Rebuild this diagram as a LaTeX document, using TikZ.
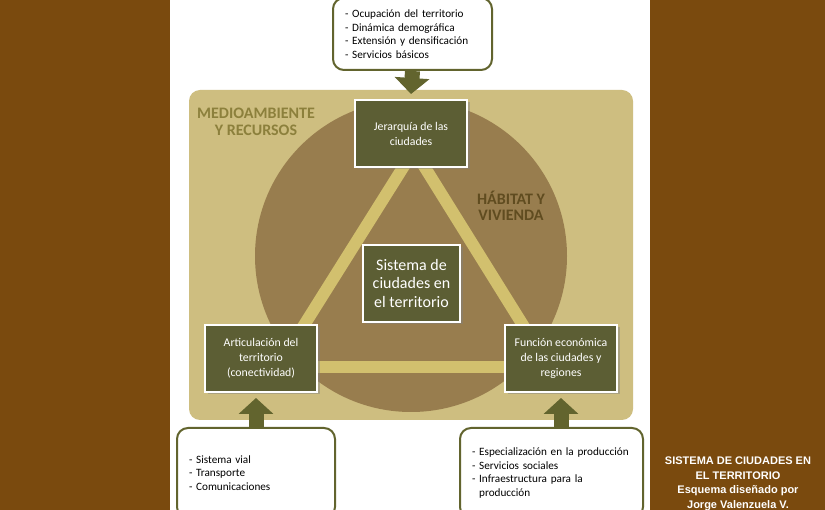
\documentclass[tikz,border=0pt]{standalone}
\usepackage{fontspec}
\setmainfont{Carlito}
\newfontfamily\captionfont{Liberation Sans}
\usetikzlibrary{arrows.meta,positioning,calc,shadows}
\definecolor{pagebrown}{RGB}{122,74,14}
\definecolor{paneltan}{RGB}{206,190,128}
\definecolor{ringbrown}{RGB}{152,125,78}
\definecolor{bandtan}{RGB}{210,192,110}
\definecolor{boxolive}{RGB}{92,94,52}
\definecolor{arrowolive}{RGB}{98,100,46}
\definecolor{mediotext}{RGB}{140,128,60}
\definecolor{habitattext}{RGB}{96,76,32}

\begin{document}
\begin{tikzpicture}[
  x=1pt, y=-1pt,
  city/.style={draw=white, line width=2pt, fill=boxolive, text=white,
               align=center, inner sep=0pt, minimum width=112pt,
               minimum height=67pt,
               font=\fontsize{11.8}{15}\selectfont,
               drop shadow={opacity=.45, shadow xshift=2.5pt,
                            shadow yshift=-2.5pt}},
  note/.style={draw=arrowolive, line width=2pt, fill=white,
               rounded corners=11pt, align=left, inner xsep=12pt,
               font=\fontsize{11.2}{13.6}\selectfont},
  band/.style={draw=bandtan, line width=12pt},
  feed/.style={-{Triangle[width=34pt, length=16pt]}, line width=15pt,
               draw=arrowolive},
  zone/.style={font=\bfseries\fontsize{16}{16.5}\selectfont, align=center}
]
\useasboundingbox (0,0) rectangle (825,510);
\fill[pagebrown] (0,0) rectangle (825,510);
\fill[white] (170,0) rectangle (650,510);

\node[fill=paneltan, rounded corners=11pt, minimum width=444pt,
  minimum height=330pt] (panel) at (411,255) {};
\node[circle, fill=ringbrown, minimum size=312pt] (ring) at (411,256) {};

% triangle of links
\coordinate (apex) at (414,150);
\coordinate (legL) at (301,330);
\coordinate (legR) at (526,330);
\draw[band, line cap=round] (legL) -- (apex) -- (legR);
\draw[band] (300,367) -- (520,367);

\node[zone, text=mediotext] (medio) at (256,122)
  {MEDIOAMBIENTE\\Y RECURSOS};
\node[zone, text=habitattext] (habitat) at (511,206)
  {HÁBITAT Y\\VIVIENDA};

\node[city] (jer) at (411,133.5) {Jerarquía de las\\ciudades};
\node[city, minimum width=97pt, minimum height=77pt,
  font=\fontsize{16}{18.5}\selectfont] (sistema) at (411.5,283.5)
  {Sistema de\\ciudades en\\el territorio};
\node[city] (art) at (261,358.5)
  {Articulación del\\territorio\\(conectividad)};
\node[city] (fun) at (561,358.5)
  {Función económica\\de las ciudades y\\regiones};

\node[note, text width=135pt, minimum height=72pt] (usos) at (412.5,34)
  {- Ocupación del territorio\\- Dinámica demográfica\\
   - Extensión y densificación\\- Servicios básicos};
\node[note, text width=134pt, minimum height=90pt] (vial) at (256,473)
  {- Sistema vial\\- Transporte\\- Comunicaciones};
\node[note, text width=159pt, minimum height=90pt] (econ) at (551.5,473)
  {- Especialización en la producción\\- Servicios sociales\\
   - Infraestructura para la\\\phantom{- }producción};

\draw[feed] (usos.south) -- ($(jer.north)+(0,-5)$);
\draw[feed] (vial.north) -- ($(vial.north |- art.south)+(0,5)$);
\draw[feed] (econ.north -| fun.south) -- ($(fun.south)+(0,5)$);

\node[text=white, align=center, font=\captionfont\bfseries
  \fontsize{11}{14.5}\selectfont] (caption) at (738,484)
  {SISTEMA DE CIUDADES EN\\EL TERRITORIO\\Esquema diseñado por\\
   Jorge Valenzuela V.};
\end{tikzpicture}
\end{document}
